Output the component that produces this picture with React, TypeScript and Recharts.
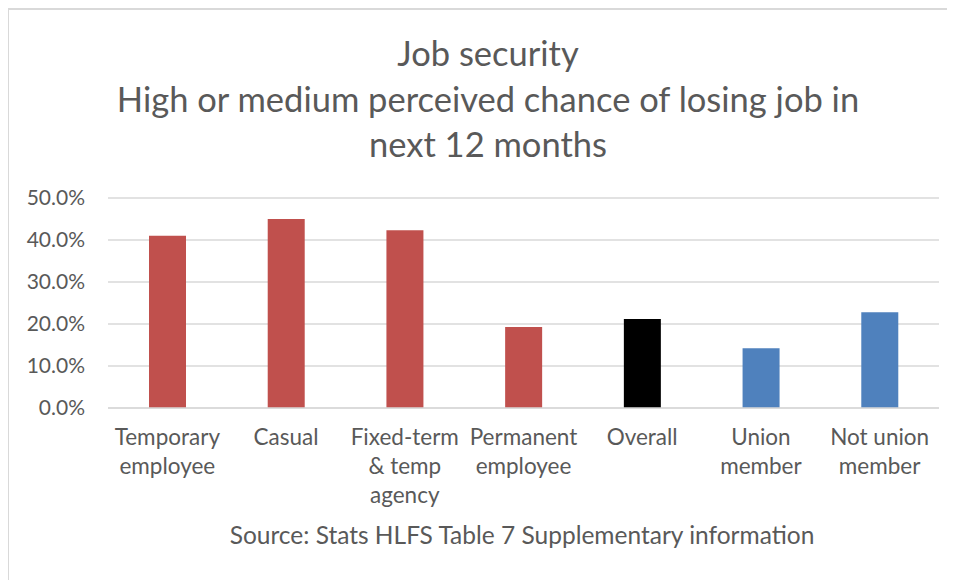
import { BarChart, Bar, XAxis, YAxis, CartesianGrid, Cell } from "recharts";

const categories = [
  "Temporary\nemployee",
  "Casual",
  "Fixed-term\n& temp\nagency",
  "Permanent\nemployee",
  "Overall",
  "Union\nmember",
  "Not union\nmember",
];
const values = [0.41, 0.45, 0.423, 0.193, 0.212, 0.142, 0.228];
const barColors = ["#C0504D", "#C0504D", "#C0504D", "#C0504D", "#000000", "#4F81BD", "#4F81BD"];
const yTicks = [0, 0.1, 0.2, 0.3, 0.4, 0.5];
const titleLines = ["Job security", "High or medium perceived chance of losing job in", "next 12 months"];
const source = "Source: Stats HLFS Table 7 Supplementary information";

const rows = categories.map((name, i) => ({ name, value: values[i] }));

const FONT = "Lato, 'Open Sans', sans-serif";
const INK = "#595959";

function CategoryTick({ x, y, payload }: any) {
  const lines = String(payload.value).split("\n");
  return (
    <text x={x} y={y + 29} textAnchor="middle" fill={INK} fontSize={22.5} fontFamily={FONT}>
      {lines.map((l, i) => (
        <tspan key={i} x={x} dy={i === 0 ? 0 : 29}>
          {l}
        </tspan>
      ))}
    </text>
  );
}

export default function App() {
  return (
    <div
      style={{
        position: "relative",
        width: 947,
        height: 572,
        marginLeft: -1,
        borderTop: "2px solid #D9D9D9",
        borderLeft: "2px solid #D9D9D9",
        background: "#fff",
        fontFamily: FONT,
        color: INK,
      }}
    >
      <div style={{ position: "absolute", left: 0, width: 958, top: 20, textAlign: "center", fontSize: 34.5, lineHeight: "45.5px" }}>
        {titleLines.map((t) => (
          <div key={t}>{t}</div>
        ))}
      </div>
      <div style={{ position: "absolute", left: 0, width: 1026, top: 510, textAlign: "center", fontSize: 24.5 }}>{source}</div>
      <div style={{ position: "absolute", left: 0, top: -2 }}>
        <BarChart width={947} height={572} data={rows} margin={{ top: 190, right: 17, bottom: 62, left: 19 }} barSize={37}>
          <CartesianGrid vertical={false} stroke="#D9D9D9" strokeWidth={1.5} />
          <XAxis
            dataKey="name"
            interval={0}
            height={110}
            tickLine={false}
            axisLine={{ stroke: "#D9D9D9", strokeWidth: 1.5 }}
            tick={<CategoryTick />}
          />
          <YAxis
            width={80}
            domain={[0, 0.5]}
            ticks={yTicks}
            tickFormatter={(v: number) => `${(v * 100).toFixed(1)}%`}
            axisLine={false}
            tickLine={false}
            tick={{ fill: INK, fontSize: 21, fontFamily: FONT, dx: -15 }}
          />
          <Bar dataKey="value" isAnimationActive={false}>
            {rows.map((r, i) => (
              <Cell key={r.name} fill={barColors[i]} />
            ))}
          </Bar>
        </BarChart>
      </div>
    </div>
  );
}
